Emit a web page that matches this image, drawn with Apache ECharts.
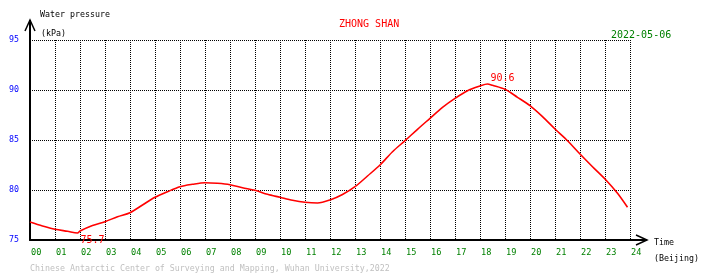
<!DOCTYPE html>
<html><head><meta charset="utf-8">
<script src="https://cdn.jsdelivr.net/npm/echarts@6/dist/echarts.min.js"></script>
<style>html,body{margin:0;padding:0;background:#fff}#c{width:710px;height:278px}</style>
</head><body><div id="c"></div>
<script>
// Data
var hours = [0,0.5,1,1.5,1.9,2,2.5,3,3.5,4,4.5,5,5.5,6,6.5,7,7.5,8,8.5,9,9.5,10,10.5,11,11.5,12,12.5,13,13.5,14,14.5,15,15.5,16,16.5,17,17.5,18,18.3,18.5,19,19.5,20,20.5,21,21.5,22,22.5,23,23.5,23.9];
var pressure = [76.8,76.4,76.07,75.87,75.7,75.9,76.45,76.83,77.33,77.73,78.5,79.27,79.83,80.33,80.57,80.73,80.67,80.53,80.23,79.97,79.57,79.27,78.97,78.77,78.7,79.0,79.55,80.33,81.4,82.5,83.83,84.93,86.07,87.17,88.27,89.17,89.93,90.4,90.6,90.47,90.07,89.27,88.43,87.33,86.1,84.93,83.6,82.33,81.1,79.67,78.27];
var yTicks = [75,80,85,90,95];
var titleText = 'ZHONG SHAN';
var dateText = '2022-05-06';
var footerText = 'Chinese Antarctic Center of Surveying and Mapping, Wuhan University,2022';

var G = {left:30, top:40, right:630, bottom:240};
var mono = 'DejaVu Sans Mono';
var seriesData = hours.map(function(h,i){return [h, pressure[i]];});

var chart = echarts.init(document.getElementById('c'), null, {renderer:'canvas'});
chart.setOption({
  animation:false,
  backgroundColor:'#fff',
  grid:{left:G.left, top:G.top, width:G.right-G.left, height:G.bottom-G.top},
  xAxis:{type:'value', min:0, max:24, interval:1,
    axisLine:{show:true, onZero:false, lineStyle:{color:'#000', width:2}},
    axisTick:{show:false},
    axisLabel:{color:'#008000', fontFamily:mono, fontSize:8.6, margin:8, align:'left', padding:[0,0,0,1],
      formatter:function(v){return (v<10?'0':'')+v;}},
    splitLine:{show:true, lineStyle:{color:'#000', width:1, type:[1,1]}}
  },
  yAxis:{type:'value', min:yTicks[0], max:yTicks[yTicks.length-1], interval:5,
    axisLine:{show:true, onZero:false, lineStyle:{color:'#000', width:2}},
    axisTick:{show:false},
    axisLabel:{color:'#0000ff', fontFamily:mono, fontSize:8.3, margin:11, padding:[0,0,4,0]},
    splitLine:{show:true, lineStyle:{color:'#000', width:1, type:[1,1]}}
  },
  series:[{type:'line', data:seriesData, showSymbol:false, smooth:0.3,
    lineStyle:{color:'#ff0000', width:1.6}, itemStyle:{color:'#ff0000'},
    markPoint:{symbol:'circle', symbolSize:0, itemStyle:{color:'transparent'},
      data:[
        {type:'min', label:{show:true, color:'#ff0000', fontFamily:mono, fontSize:10, position:'inside', align:'left', verticalAlign:'top', offset:[3,2], formatter:function(p){return p.value.toFixed(1);}}},
        {type:'max', label:{show:true, color:'#ff0000', fontFamily:mono, fontSize:10, position:'inside', align:'left', verticalAlign:'bottom', offset:[3,-1], formatter:function(p){return p.value.toFixed(1);}}}
      ]}
  }],
  graphic:[
    {type:'line', shape:{x1:G.left, y1:G.top, x2:G.left, y2:20}, style:{stroke:'#000', lineWidth:2}, z:10},
    {type:'polyline', shape:{points:[[25,31],[G.left,20],[35,31]]}, style:{stroke:'#000', lineWidth:1.5, fill:null}, z:10},
    {type:'line', shape:{x1:G.right, y1:G.bottom, x2:647, y2:G.bottom}, style:{stroke:'#000', lineWidth:2}, z:10},
    {type:'polyline', shape:{points:[[636,235],[647,G.bottom],[636,245]]}, style:{stroke:'#000', lineWidth:1.5, fill:null}, z:10},
    {type:'text', left:40, top:11, style:{text:'Water pressure', font:'8.3px "DejaVu Sans Mono"', fill:'#000'}},
    {type:'text', left:41, top:30, style:{text:'(kPa)', font:'8.3px "DejaVu Sans Mono"', fill:'#000'}},
    {type:'text', left:339, top:19, style:{text:titleText, font:'10px "DejaVu Sans Mono"', fill:'#ff0000'}},
    {type:'text', left:609, top:30, z:20, style:{text:dateText, font:'10px "DejaVu Sans Mono"', fill:'#008000', backgroundColor:'#fff', padding:[0,1,0,2]}},
    {type:'text', left:654, top:239, style:{text:'Time', font:'8.3px "DejaVu Sans Mono"', fill:'#000'}},
    {type:'text', left:654, top:255, style:{text:'(Beijing)', font:'8.3px "DejaVu Sans Mono"', fill:'#000'}},
    {type:'text', left:30, top:265, style:{text:footerText, font:'8.3px "DejaVu Sans Mono"', fill:'#c0c0c0'}}
  ]
});
</script></body></html>
